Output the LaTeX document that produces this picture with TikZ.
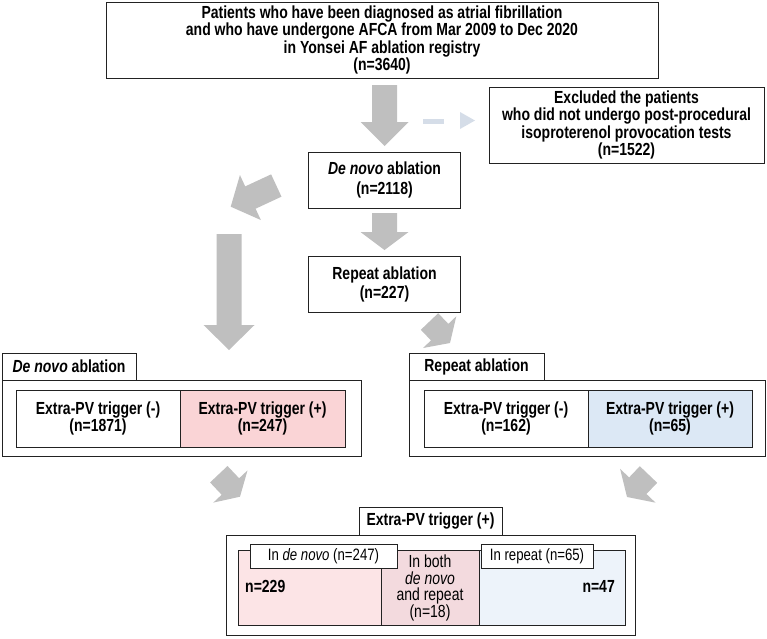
\documentclass[tikz,border=0pt]{standalone}
\usepackage{fontspec}
\setmainfont{Liberation Sans}[FakeStretch=0.8]
\definecolor{arrowgray}{HTML}{BFBFBF}
\definecolor{dashblue}{HTML}{D5DDE8}
\definecolor{pinkA}{HTML}{FAD4D6}
\definecolor{blueA}{HTML}{DCE8F5}
\definecolor{pinkB}{HTML}{FCE4E6}
\definecolor{pinkC}{HTML}{F3DADE}
\definecolor{blueB}{HTML}{EDF3FA}
\definecolor{edge}{HTML}{222222}
\newcommand{\blockarrow}[5]{%
  \path (#1); \pgfgetlastxy{\bax}{\bay}%
  \path (#2); \pgfgetlastxy{\bbx}{\bby}%
  \pgfmathsetmacro{\bang}{atan2(\bby-\bay,\bbx-\bax)}%
  \pgfmathsetmacro{\blen}{veclen(\bbx-\bax,\bby-\bay)}%
  \pgfmathsetmacro{\bneck}{\blen-#5}%
  \fill[arrowgray, shift={(\bax,\bay)}, rotate=\bang]
    (0pt,-#3pt) -- (\bneck pt,-#3pt) -- (\bneck pt,-#4pt) -- (\blen pt,0pt)
    -- (\bneck pt,#4pt) -- (\bneck pt,#3pt) -- (0pt,#3pt) -- cycle;}
\begin{document}
\begin{tikzpicture}[x=1pt,y=-1pt,
  box/.style={draw=edge, line width=0.9pt, fill=white, inner sep=0pt, align=center,
    font=\fontsize{17.5}{17.5}\selectfont\bfseries},
  tab/.style={box},
  smalltab/.style={draw=edge, line width=0.8pt, fill=white, inner sep=0pt, align=center,
    font=\fontsize{16.5}{16.5}\selectfont},
  cell/.style={draw=edge, line width=0.8pt, inner sep=0pt, align=center,
    font=\fontsize{17.5}{17}\selectfont\bfseries},
  plain/.style={inner sep=0pt, align=center, font=\fontsize{17.5}{17}\selectfont\bfseries}]
\useasboundingbox (0,0) rectangle (767,638);

% main flow boxes
\node[box, minimum width=552, minimum height=76] (top) at (382,40)
  {Patients who have been diagnosed as atrial fibrillation\\and who have undergone AFCA from Mar 2009 to Dec 2020\\in Yonsei AF ablation registry\\(n=3640)};
\node[box, minimum width=275, minimum height=76] (excl) at (626.5,125)
  {Excluded the patients\\who did not undergo post-procedural\\isoproterenol provocation tests\\(n=1522)};
\node[box, minimum width=152, minimum height=56, font=\fontsize{17.5}{20}\selectfont\bfseries] (dn) at (384.5,180)
  {\textit{De novo} ablation\\(n=2118)};
\node[box, minimum width=152, minimum height=56, font=\fontsize{17.5}{19}\selectfont\bfseries] (rp) at (384.5,284)
  {Repeat ablation\\(n=227)};

% de novo group
\node[box, minimum width=359, minimum height=76] (dnouter) at (181.5,418) {};
\node[cell, fill=white, minimum width=164, minimum height=57] (dnneg) at (98,418.5)
  {Extra-PV trigger (-)\\(n=1871)};
\node[cell, fill=pinkA, minimum width=165, minimum height=57] (dnpos) at (262.5,418.5)
  {Extra-PV trigger (+)\\(n=247)};
\node[tab, minimum width=134, minimum height=27] (dntab) at (69,366.5) {\textit{De novo} ablation};

% repeat group
\node[box, minimum width=356, minimum height=76] (rpouter) at (587,418) {};
\node[cell, fill=white, minimum width=164, minimum height=57] (rpneg) at (506,418.5)
  {Extra-PV trigger (-)\\(n=162)};
\node[cell, fill=blueA, minimum width=164, minimum height=57] (rppos) at (670,418.5)
  {Extra-PV trigger (+)\\(n=65)};
\node[tab, minimum width=135, minimum height=27] (rptab) at (476.5,366.5) {Repeat ablation};

% bottom group
\node[box, minimum width=409, minimum height=100] (botouter) at (430.5,585.5) {};
\node[cell, fill=pinkB, minimum width=143, minimum height=75] (cellA) at (309.5,587.5) {};
\node[cell, fill=pinkC, minimum width=98, minimum height=75] (cellB) at (430,587.5) {};
\node[cell, fill=blueB, minimum width=146, minimum height=75] (cellC) at (552,587.5) {};
\node[smalltab, minimum width=147, minimum height=24] (tabA) at (323.5,556) {In \textit{de novo} (n=247)};
\node[smalltab, minimum width=112, minimum height=24] (tabB) at (537,556) {In repeat (n=65)};
\node[tab, minimum width=143, minimum height=28] (bottab) at (430.5,521) {Extra-PV trigger (+)};
\node[plain, anchor=west] (n229) at (245,586) {n=229};
\node[plain, anchor=east] (n47) at (615,586) {n=47};
\node[inner sep=0pt, align=center, font=\fontsize{17.5}{16.5}\selectfont] (both) at (430,588)
  {In both\\\textit{de novo}\\and repeat\\(n=18)};

% block arrows
\coordinate (a1s) at (384.5,85);   \coordinate (a1e) at (384.5,146);
\coordinate (a2s) at (276.3,185.5); \coordinate (a2e) at (230.7,206.7);
\coordinate (a3s) at (229,234);    \coordinate (a3e) at (229,350);
\coordinate (a4s) at (384.5,213);  \coordinate (a4e) at (384.5,250);
\coordinate (a5s) at (429.5,321.5); \coordinate (a5e) at (450,343);
\coordinate (a6s) at (218.8,474.2); \coordinate (a6e) at (240,496.7);
\coordinate (a7s) at (648.5,474.5); \coordinate (a7e) at (627,497);
\blockarrow{a1s}{a1e}{12.5}{24}{24}
\blockarrow{a2s}{a2e}{12.3}{24.8}{21.7}
\blockarrow{a3s}{a3e}{12.5}{25.5}{25}
\blockarrow{a4s}{a4e}{12.5}{24}{18}
\blockarrow{a5s}{a5e}{12}{23}{15}
\blockarrow{a6s}{a6e}{12}{23.5}{14}
\blockarrow{a7s}{a7e}{12}{24.5}{15.6}

% dashed exclusion arrow
\coordinate (d1) at (423,121); \coordinate (d2) at (444,121);
\coordinate (d3) at (460,112); \coordinate (d4) at (475,120.5); \coordinate (d5) at (460,129);
\draw[dashblue, line width=5pt] (d1) -- (d2);
\fill[dashblue] (d3) -- (d4) -- (d5) -- cycle;
\end{tikzpicture}
\end{document}
